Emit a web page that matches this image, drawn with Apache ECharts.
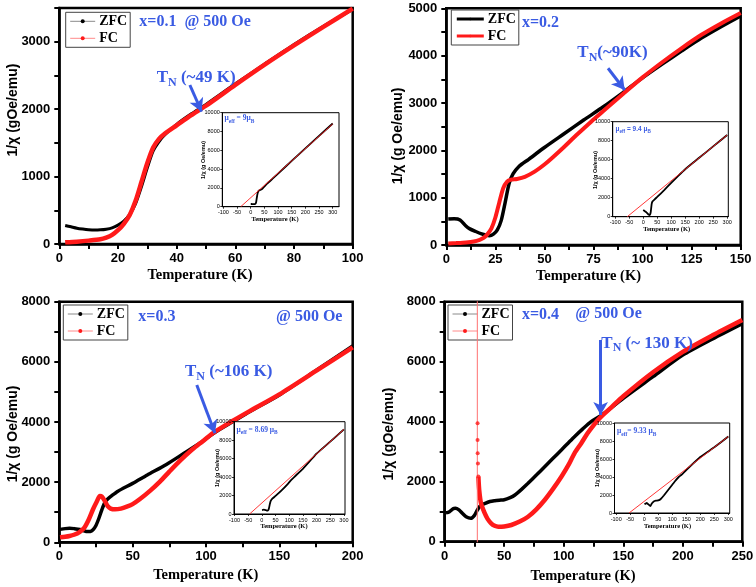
<!DOCTYPE html>
<html><head><meta charset="utf-8">
<script src="https://cdn.jsdelivr.net/npm/echarts@6/dist/echarts.min.js"></script>
<style>html,body{margin:0;padding:0;background:#fff}#c{width:756px;height:587px}</style>
</head><body><div id="c"></div>
<script>
// ---------- Panel data (Temperature K, 1/chi) ----------
const p1ZFC = [[2,275],[4,255],[6,235],[8,222],[10,212],[12,207],[14,210],[16,220],[18,240],[20,280],[22,340],[24,440],[26,600],[28,850],[30,1130],[32,1380],[34,1520],[36,1620],[40,1775],[45,1930],[50,2070],[60,2375],[70,2670],[80,2960],[90,3230],[100,3480]];
const p1FC = [[2,25],[6,35],[10,50],[14,70],[16,95],[18,135],[20,205],[22,300],[24,430],[26,640],[28,920],[30,1200],[32,1430],[34,1560],[36,1640],[40,1760],[45,1910],[50,2050],[60,2360],[70,2660],[80,2945],[90,3220],[100,3490]];

const p2ZFC = [[1,550],[4,555],[7,530],[10,400],[12,340],[15,285],[18,235],[20,210],[22,195],[24,230],[26,320],[28,520],[30,900],[32,1300],[34,1500],[37,1660],[42,1810],[50,2060],[60,2350],[70,2640],[80,2920],[90,3220],[100,3530],[110,3820],[120,4100],[130,4370],[140,4610],[150,4840]];
const p2FC = [[1,30],[5,40],[10,55],[14,75],[17,110],[19,150],[21,230],[23,350],[25,580],[27,900],[29,1200],[31,1340],[33,1380],[36,1395],[40,1440],[45,1550],[50,1700],[55,1880],[60,2070],[65,2270],[70,2460],[75,2650],[80,2830],[90,3190],[100,3540],[110,3860],[120,4160],[130,4440],[140,4680],[150,4900]];

const p3ZFC = [[0.5,430],[4,455],[7,465],[10,455],[14,430],[17,380],[19,355],[21,360],[23,420],[25,560],[27,800],[29,1080],[31,1320],[33,1440],[36,1560],[40,1700],[50,1960],[60,2240],[73,2590],[85,2960],[96,3300],[105,3620],[119,4030],[130,4350],[150,4900],[175,5710],[200,6530]];
const p3FC = [[0.5,165],[4,185],[7,210],[10,250],[14,350],[17,480],[20,750],[23,1100],[25.5,1350],[27.7,1540],[29,1520],[31,1380],[33,1200],[35,1120],[38,1095],[42,1120],[46,1185],[50,1270],[55,1440],[62,1720],[68.6,2020],[75,2350],[82,2700],[90,3060],[96,3290],[105,3640],[119,4060],[130,4370],[150,4920],[175,5700],[200,6480]];

const p4ZFC = [[1,960],[4,1000],[7,1100],[9,1115],[12,1060],[15,940],[18,830],[22,780],[25,880],[27.5,1060],[30,1200],[34,1280],[38,1340],[42,1367],[46,1385],[50,1400],[55,1470],[59,1557],[65,1760],[70,1947],[77,2220],[84,2500],[91,2780],[98,3057],[104,3300],[109,3500],[116,3760],[123,4000],[132,4223],[150,4780],[175,5500],[200,6220],[225,6760],[250,7270]];
const p4FC = [[28.3,2170],[29,1720],[30.5,1280],[33.6,950],[36,760],[39,613],[42,530],[45,500],[50,510],[56,557],[63,670],[70,833],[77,1080],[84,1390],[91,1760],[98,2167],[104,2560],[109,2947],[115,3300],[120,3613],[125,3880],[130,4113],[140,4480],[150,4850],[175,5650],[200,6330],[225,6880],[250,7390]];
const p4FCspikeLine = [[27.4,-300],[27.4,9500]];
const p4FCspikeDots = [[27.6,3950],[27.6,3390],[27.7,2950],[27.9,2610],[28.3,2170]];

// ---------- Inset data ----------
const i1ZFC = [[0,290],[5,280],[10,270],[15,280],[18,330],[20,500],[22,900],[25,1400],[28,1650],[32,1750],[40,1850],[60,2450],[80,2980],[100,3520],[150,4870],[200,6200],[250,7530],[300,8850]];
const i1Fit = [[-36.6,0],[300,8800]];
const i2ZFC = [[0,700],[5,600],[10,500],[15,350],[20,200],[24,180],[27,500],[30,1300],[33,1600],[40,1800],[50,2080],[75,2800],[100,3560],[125,4300],[150,5000],[200,6200],[250,7400],[300,8600]];
const i2Fit = [[-57,0],[300,8600]];
const i3ZFC = [[0.5,430],[7,465],[14,430],[19,355],[22,380],[25.5,575],[29,1074],[32,1406],[39,1683],[50,1960],[73,2590],[96,3300],[105,3620],[119,4030],[150,4900],[200,6530],[250,7840],[300,9170]];
const i3Fit = [[-45,0],[300,9170]];
const i4ZFC = [[1,960],[9,1113],[22,780],[27,1057],[34,1280],[42,1367],[50,1400],[59,1557],[70,1947],[84,2500],[98,3057],[109,3500],[123,4000],[132,4223],[150,4780],[200,6220],[250,7300],[300,8500]];
const i4Fit = [[-54,0],[300,8500]];

// ---------- Arrows (tail, head) ----------
const p1Arrow = [[44.5,2358],[48.5,1962]];
const p2Arrow = [[82.4,3733],[90.9,3274]];
const p3Arrow = [[93.7,5229],[106.1,3624]];
const p4Arrow = [[131,6723],[131,4223]];

// ---------- Tick labels ----------
const p1XLabels = [0,20,40,60,80,100];
const p1XTicks = [0,10,20,30,40,50,60,70,80,90,100];
const p1YLabels = [0,1000,2000,3000];
const p1YTicks = [0,500,1000,1500,2000,2500,3000,3500];
const p2XLabels = [0,25,50,75,100,125,150];
const p2XTicks = [0,12.5,25,37.5,50,62.5,75,87.5,100,112.5,125,137.5,150];
const p2YLabels = [0,1000,2000,3000,4000,5000];
const p2YTicks = [0,500,1000,1500,2000,2500,3000,3500,4000,4500,5000];
const p3XLabels = [0,50,100,150,200];
const p3XTicks = [0,25,50,75,100,125,150,175,200];
const p4XLabels = [0,50,100,150,200,250];
const p4XTicks = [0,25,50,75,100,125,150,175,200,225,250];
const p34YLabels = [0,2000,4000,6000,8000];
const p34YTicks = [0,1000,2000,3000,4000,5000,6000,7000,8000];
const insetXLabels = [-100,-50,0,50,100,150,200,250,300];
const insetYLabels = [0,2000,4000,6000,8000,10000];

const BLUE = '#3a5be3';
const SERIF = "'Liberation Serif','Times New Roman',serif";
const SANS = "'Liberation Sans',Arial,sans-serif";
const plain = v => String(v);

const grids = [
  {left:59.3, top:8, width:293.4, height:236},
  {left:446.3, top:8.3, width:294.4, height:236.7},
  {left:59.3, top:301.7, width:293.4, height:240.6},
  {left:444.7, top:301.7, width:297.6, height:240},
  {left:222.3, top:112.7, width:116.7, height:94},
  {left:612.7, top:121.7, width:115.6, height:95},
  {left:234, top:421.7, width:111, height:92.3},
  {left:614.5, top:423, width:115.2, height:90}
].map((g,i)=>Object.assign(g,{show:true, borderColor:'#000', borderWidth: i<4?2.5:1, backgroundColor: i<4?'transparent':'#fff', containLabel:false, outerBoundsMode:'none', z: i<4?0:10}));

function mainAxis(gi, min, max, labels, ticks, isX){
  return {type:'value', gridIndex:gi, min:min, max:max,
    axisLine:{show:true, onZero:false, lineStyle:{color:'#000', width:2.5}},
    axisTick:{show:true, customValues:ticks, length:5, inside:false, lineStyle:{color:'#000', width:2}},
    axisLabel:{customValues:labels, formatter:plain, margin:isX?8:9, fontFamily:SANS, fontWeight:'bold', fontSize:13, color:'#000'},
    splitLine:{show:false}, z:0};
}
function insetAxis(gi, min, max, labels, isX){
  return {type:'value', gridIndex:gi, min:min, max:max, z:10,
    axisLine:{show:true, onZero:false, lineStyle:{color:'#000', width:1}},
    axisTick:{show:true, customValues:labels, length:2, lineStyle:{color:'#000', width:0.8}},
    axisLabel:{customValues:labels, formatter:plain, margin:isX?3:2.5, fontFamily:SANS, fontSize:5.5, color:'#000'},
    splitLine:{show:false}};
}

const xAxis = [
  mainAxis(0,0,100,p1XLabels,p1XTicks,true),
  mainAxis(1,0,150,p2XLabels,p2XTicks,true),
  mainAxis(2,0,200,p3XLabels,p3XTicks,true),
  mainAxis(3,0,250,p4XLabels,p4XTicks,true),
  insetAxis(4,-104,323,insetXLabels,true),
  insetAxis(5,-109,304,insetXLabels,true),
  insetAxis(6,-102,304,insetXLabels,true),
  insetAxis(7,-106,305,insetXLabels,true)
];
const yAxis = [
  mainAxis(0,0,3500,p1YLabels,p1YTicks,false),
  mainAxis(1,0,5000,p2YLabels,p2YTicks,false),
  mainAxis(2,0,8000,p34YLabels,p34YTicks,false),
  mainAxis(3,0,8000,p34YLabels,p34YTicks,false),
  insetAxis(4,0,10000,insetYLabels,false),
  insetAxis(5,0,10000,insetYLabels,false),
  insetAxis(6,0,10000,insetYLabels,false),
  insetAxis(7,0,10000,insetYLabels,false)
];

function line(name, gi, data, color, width, z, extra){
  return Object.assign({type:'line', name:name, xAxisIndex:gi, yAxisIndex:gi, data:data,
    showSymbol:false, symbol:'circle', symbolSize:4, smooth:0.25, clip:true,
    lineStyle:{color:color, width:width}, itemStyle:{color:color}, z:z, silent:true}, extra||{});
}
function arrow(pts){
  return {silent:true, symbol:['none','arrow'], symbolSize:[11,13], animation:false,
    label:{show:false}, lineStyle:{color:BLUE, width:3, type:'solid'},
    data:[[{coord:pts[0]},{coord:pts[1]}]]};
}

const series = [
  line('ZFC',0,p1ZFC,'#000',3,3,{markLine:arrow(p1Arrow)}),
  line('FC',0,p1FC,'#ff1a1a',4.5,4),
  line('ZFC',1,p2ZFC,'#000',3.5,3,{markLine:arrow(p2Arrow)}),
  line('FC',1,p2FC,'#ff1a1a',4,4),
  line('ZFC',2,p3ZFC,'#000',3.5,3,{markLine:arrow(p3Arrow)}),
  line('FC',2,p3FC,'#ff1a1a',4.5,4),
  line('ZFC',3,p4ZFC,'#000',3.5,3,{markLine:arrow(p4Arrow)}),
  line('FC',3,p4FC,'#ff1a1a',4.5,4),
  line('FC',3,p4FCspikeLine,'#ff7070',1,4,{smooth:false}),
  {type:'scatter', name:'FC', xAxisIndex:3, yAxisIndex:3, data:p4FCspikeDots, symbolSize:4, itemStyle:{color:'#ff1a1a'}, z:4, silent:true},
  line('ZFC inset',4,i1ZFC,'#000',1.8,12,{smooth:0.1}),
  line('fit',4,i1Fit,'#ff2020',0.9,13,{smooth:false}),
  line('ZFC inset',5,i2ZFC,'#000',1.8,12,{smooth:0.1}),
  line('fit',5,i2Fit,'#ff2020',0.9,13,{smooth:false}),
  line('ZFC inset',6,i3ZFC,'#000',1.8,12,{smooth:0.1}),
  line('fit',6,i3Fit,'#ff2020',0.9,13,{smooth:false}),
  line('ZFC inset',7,i4ZFC,'#000',1.8,12,{smooth:0.1}),
  line('fit',7,i4Fit,'#ff2020',0.9,13,{smooth:false})
];

function legendAt(left, top, thick){
  return {left:left, top:top, orient:'vertical', selectedMode:false, padding:[2,3,2,4], itemGap:3, itemWidth:thick?27:25, itemHeight:thick?3:5,
    borderColor:'#444', borderWidth:1, backgroundColor:'#fff',
    textStyle:{fontFamily:SERIF, fontWeight:'bold', fontSize:14, color:'#000', padding:[0,0,0,-1]},
    data: thick ? [
      {name:'ZFC', itemStyle:{color:'#000'}, lineStyle:{color:'#000', width:3}},
      {name:'FC', itemStyle:{color:'#ff1a1a'}, lineStyle:{color:'#ff1a1a', width:3}}
    ] : [
      {name:'ZFC', itemStyle:{color:'#000'}, lineStyle:{color:'#8a8a8a', width:1}},
      {name:'FC', itemStyle:{color:'#ff1a1a'}, lineStyle:{color:'#ff8a8a', width:1}}
    ]};
}
const legend = [legendAt(65.7,12.3,false), legendAt(451.3,10,true), legendAt(63.3,305,false), legendAt(448,305,false)];

function txt(x, y, text, size){
  return {type:'text', x:x, y:y, z:100, silent:true,
    style:{text:text, fontFamily:SERIF, fontWeight:'bold', fontSize:size, fill:BLUE, align:'left', verticalAlign:'middle'}};
}
function tn(x, y, rest){
  return {type:'text', x:x, y:y, z:100, silent:true,
    style:{text:'{t|T}{n|N}{t|'+rest+'}', align:'left', verticalAlign:'middle',
      rich:{t:{fontFamily:SERIF, fontWeight:'bold', fontSize:17, fill:BLUE, lineHeight:22},
            n:{fontFamily:SERIF, fontWeight:'bold', fontSize:12, fill:BLUE, lineHeight:12, verticalAlign:'bottom'}}}};
}
function mu(x, y, mid, family, size){
  return {type:'text', x:x, y:y, z:100, silent:true,
    style:{text:'{m|μ}{s|eff}{m|'+mid+'μ}{s|B}', align:'left', verticalAlign:'middle',
      rich:{m:{fontFamily:family, fontWeight:'bold', fontSize:size, fill:BLUE, lineHeight:size+3},
            s:{fontFamily:family, fontWeight:'bold', fontSize:size*0.72, fill:BLUE, lineHeight:size*0.72, verticalAlign:'bottom'}}}};
}
function yname(x, y, text, size){
  return {type:'text', x:x, y:y, rotation:Math.PI/2, z:100, silent:true,
    style:{text:text, fontFamily:SANS, fontWeight:'bold', fontSize:size, fill:'#000', align:'center', verticalAlign:'middle'}};
}
function xname(x, y, text, size){
  return {type:'text', x:x, y:y, z:100, silent:true,
    style:{text:text, fontFamily:SERIF, fontWeight:'bold', fontSize:size, fill:'#000', align:'center', verticalAlign:'middle'}};
}

const graphic = [
  txt(139.3,21.7,'x=0.1  @ 500 Oe',16),
  tn(156.7,78,' (~49 K)'),
  txt(522,23.3,'x=0.2',16),
  tn(577.3,53,'(~90K)'),
  txt(138.3,316.7,'x=0.3',16),
  txt(276,316.7,'@ 500 Oe',16),
  tn(185,371.7,' (~106 K)'),
  txt(522,315,'x=0.4',16),
  txt(575.3,314,'@ 500 Oe',16),
  tn(601.3,343.3,' (~ 130 K)'),
  yname(13,110,'1/χ (gOe/emu)',14),
  yname(398,136,'1/χ (g Oe/emu)',14),
  yname(13,434,'1/χ (g Oe/emu)',14),
  yname(389,434,'1/χ (gOe/emu)',14),
  xname(200,275.7,'Temperature (K)',14.5),
  xname(588.5,276.7,'Temperature (K)',14.5),
  xname(205.7,575,'Temperature (K)',14.5),
  xname(583,576.7,'Temperature (K)',14.5),
  // insets
  mu(224.5,118.5,' = 9',SERIF,7.5),
  mu(615.5,129.5,' = 9.4 ',SANS,6.5),
  mu(236.5,430,' = 8.69 ',SERIF,7.5),
  mu(617,431.5,'= 9.33 ',SERIF,7.5),
  yname(203,160,'1/χ (g Oe/emu)',5.5),
  yname(595,170,'1/χ (g Oe/emu)',5.5),
  yname(217,468,'1/χ (g Oe/emu)',5.5),
  yname(597,468,'1/χ (g Oe/emu)',5.5),
  xname(275,219.3,'Temperature (K)',6.5),
  xname(666.7,229.3,'Temperature (K)',6.5),
  xname(284,526.7,'Temperature (K)',6.5),
  xname(667.5,526,'Temperature (K)',6.5)
];

const chart = echarts.init(document.getElementById('c'), null, {renderer:'canvas'});
chart.setOption({animation:false, backgroundColor:'#fff', grid:grids, xAxis:xAxis, yAxis:yAxis, legend:legend, series:series, graphic:graphic, tooltip:{show:false}});
</script></body></html>
